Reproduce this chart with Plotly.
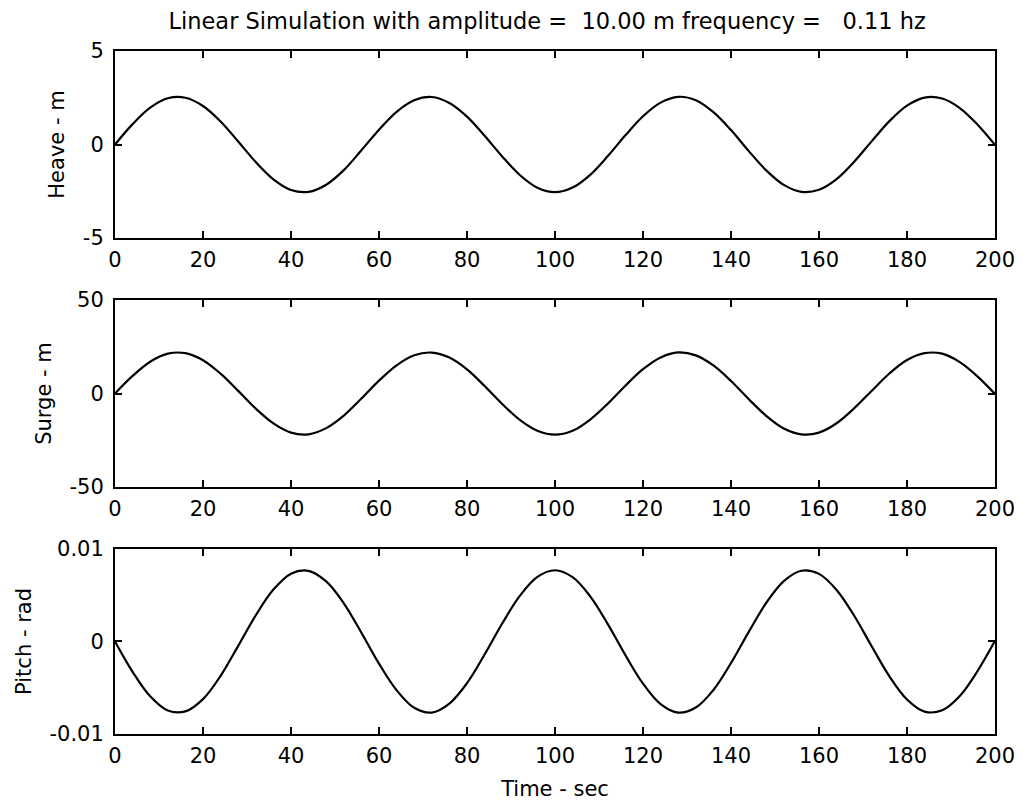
"""Linear simulation response: heave, surge, pitch vs time (MATLAB-style panels)."""

import plotly.graph_objects as go
from plotly.subplots import make_subplots

FONT = "DejaVu Sans, Arial, sans-serif"
INK = "#000000"

time_s = list(range(0, 201, 4))

heave_m = [
    0.00, 1.09, 1.97, 2.47, 2.50, 2.06, 1.23, 0.16, -0.94, -1.86,
    -2.43, -2.53, -2.15, -1.37, -0.31, 0.79, 1.75, 2.37, 2.54, 2.22,
    1.49, 0.47, -0.64, -1.63, -2.31, -2.55, -2.30, -1.62, -0.62, 0.49,
    1.51, 2.24, 2.55, 2.37, 1.73, 0.77, -0.34, -1.38, -2.16, -2.53,
    -2.42, -1.85, -0.92, 0.18, 1.25, 2.08, 2.51, 2.46, 1.95, 1.07,
    -0.02,
]

surge_m = [
    0.0, 9.4, 17.0, 21.3, 21.6, 17.8, 10.6, 1.4, -8.1, -16.0,
    -20.9, -21.8, -18.5, -11.8, -2.7, 6.9, 15.1, 20.5, 21.9, 19.2,
    12.9, 4.0, -5.6, -14.1, -19.9, -22.0, -19.9, -13.9, -5.4, 4.2,
    13.0, 19.3, 22.0, 20.4, 15.0, 6.7, -2.9, -11.9, -18.7, -21.8,
    -20.9, -15.9, -7.9, 1.5, 10.7, 17.9, 21.6, 21.3, 16.8, 9.2,
    -0.2,
]

pitch_rad = [
    0.0, -0.00328, -0.00593, -0.00746, -0.00756, -0.00623, -0.00371, -0.00047, 0.00284, 0.00561,
    0.00733, 0.00764, 0.00649, 0.00413, 0.00095, -0.00240, -0.00527, -0.00717, -0.00768, -0.00671,
    -0.00450, -0.00141, 0.00194, 0.00493, 0.00698, 0.00770, 0.00695, 0.00488, 0.00188, -0.00148,
    -0.00456, -0.00677, -0.00769, -0.00714, -0.00524, -0.00233, 0.00101, 0.00417, 0.00653, 0.00765,
    0.00731, 0.00557, 0.00278, -0.00054, -0.00376, -0.00627, -0.00758, -0.00744, -0.00589, -0.00322,
    0.00007,
]

x_ticks = list(range(0, 201, 20))

panels = [
    ("Heave - m", heave_m, [-5, 0, 5], ["-5", "0", "5"]),
    ("Surge - m", surge_m, [-50, 0, 50], ["-50", "0", "50"]),
    ("Pitch - rad", pitch_rad, [-0.01, 0, 0.01], ["-0.01", "0", "0.01"]),
]

fig = make_subplots(rows=3, cols=1)

domains = [[0.7262, 1.0], [0.3616, 0.6354], [0.0, 0.2709]]
tick_font = dict(family=FONT, size=21, color=INK)
label_font = dict(family=FONT, size=21, color=INK)

for i, (label, values, yvals, ytext) in enumerate(panels, start=1):
    fig.add_trace(go.Scatter(
        x=time_s, y=values, mode="lines",
        line=dict(color=INK, width=2.2, shape="spline", smoothing=1.0),
        showlegend=False, hoverinfo="skip",
    ), row=i, col=1)
    fig.update_xaxes(
        range=[0, 200], tickvals=x_ticks, ticktext=[str(v) for v in x_ticks],
        ticks="inside", ticklen=7, tickwidth=2, tickcolor=INK,
        showline=True, linecolor=INK, linewidth=2, mirror="ticks",
        showgrid=False, zeroline=False, automargin=False,
        tickfont=tick_font, ticklabelstandoff=2,
        row=i, col=1,
    )
    fig.update_yaxes(
        range=[yvals[0], yvals[-1]], tickvals=yvals, ticktext=ytext,
        ticks="inside", ticklen=7, tickwidth=2, tickcolor=INK,
        showline=True, linecolor=INK, linewidth=2, mirror="ticks",
        showgrid=False, zeroline=False, automargin=False,
        tickfont=tick_font, ticklabelstandoff=5,
        title=dict(text=label, font=label_font, standoff=12),
        domain=domains[i - 1],
        row=i, col=1,
    )

fig.update_xaxes(title=dict(text="Time - sec", font=label_font, standoff=14), row=3, col=1)

# page body adds ~8px offset, so margins are shifted to land the axes where they belong
fig.update_layout(
    width=1023, height=804,
    paper_bgcolor="#FFFFFF", plot_bgcolor="#FFFFFF",
    margin=dict(l=107, r=36, t=43, b=78),
    title=dict(
        text="Linear Simulation with amplitude =  10.00 m frequency =   0.11 hz",
        font=dict(family=FONT, size=22.5, color=INK),
        x=0.527, xanchor="center", y=0.984, yanchor="middle",
    ),
)

fig.write_html("out.html")
